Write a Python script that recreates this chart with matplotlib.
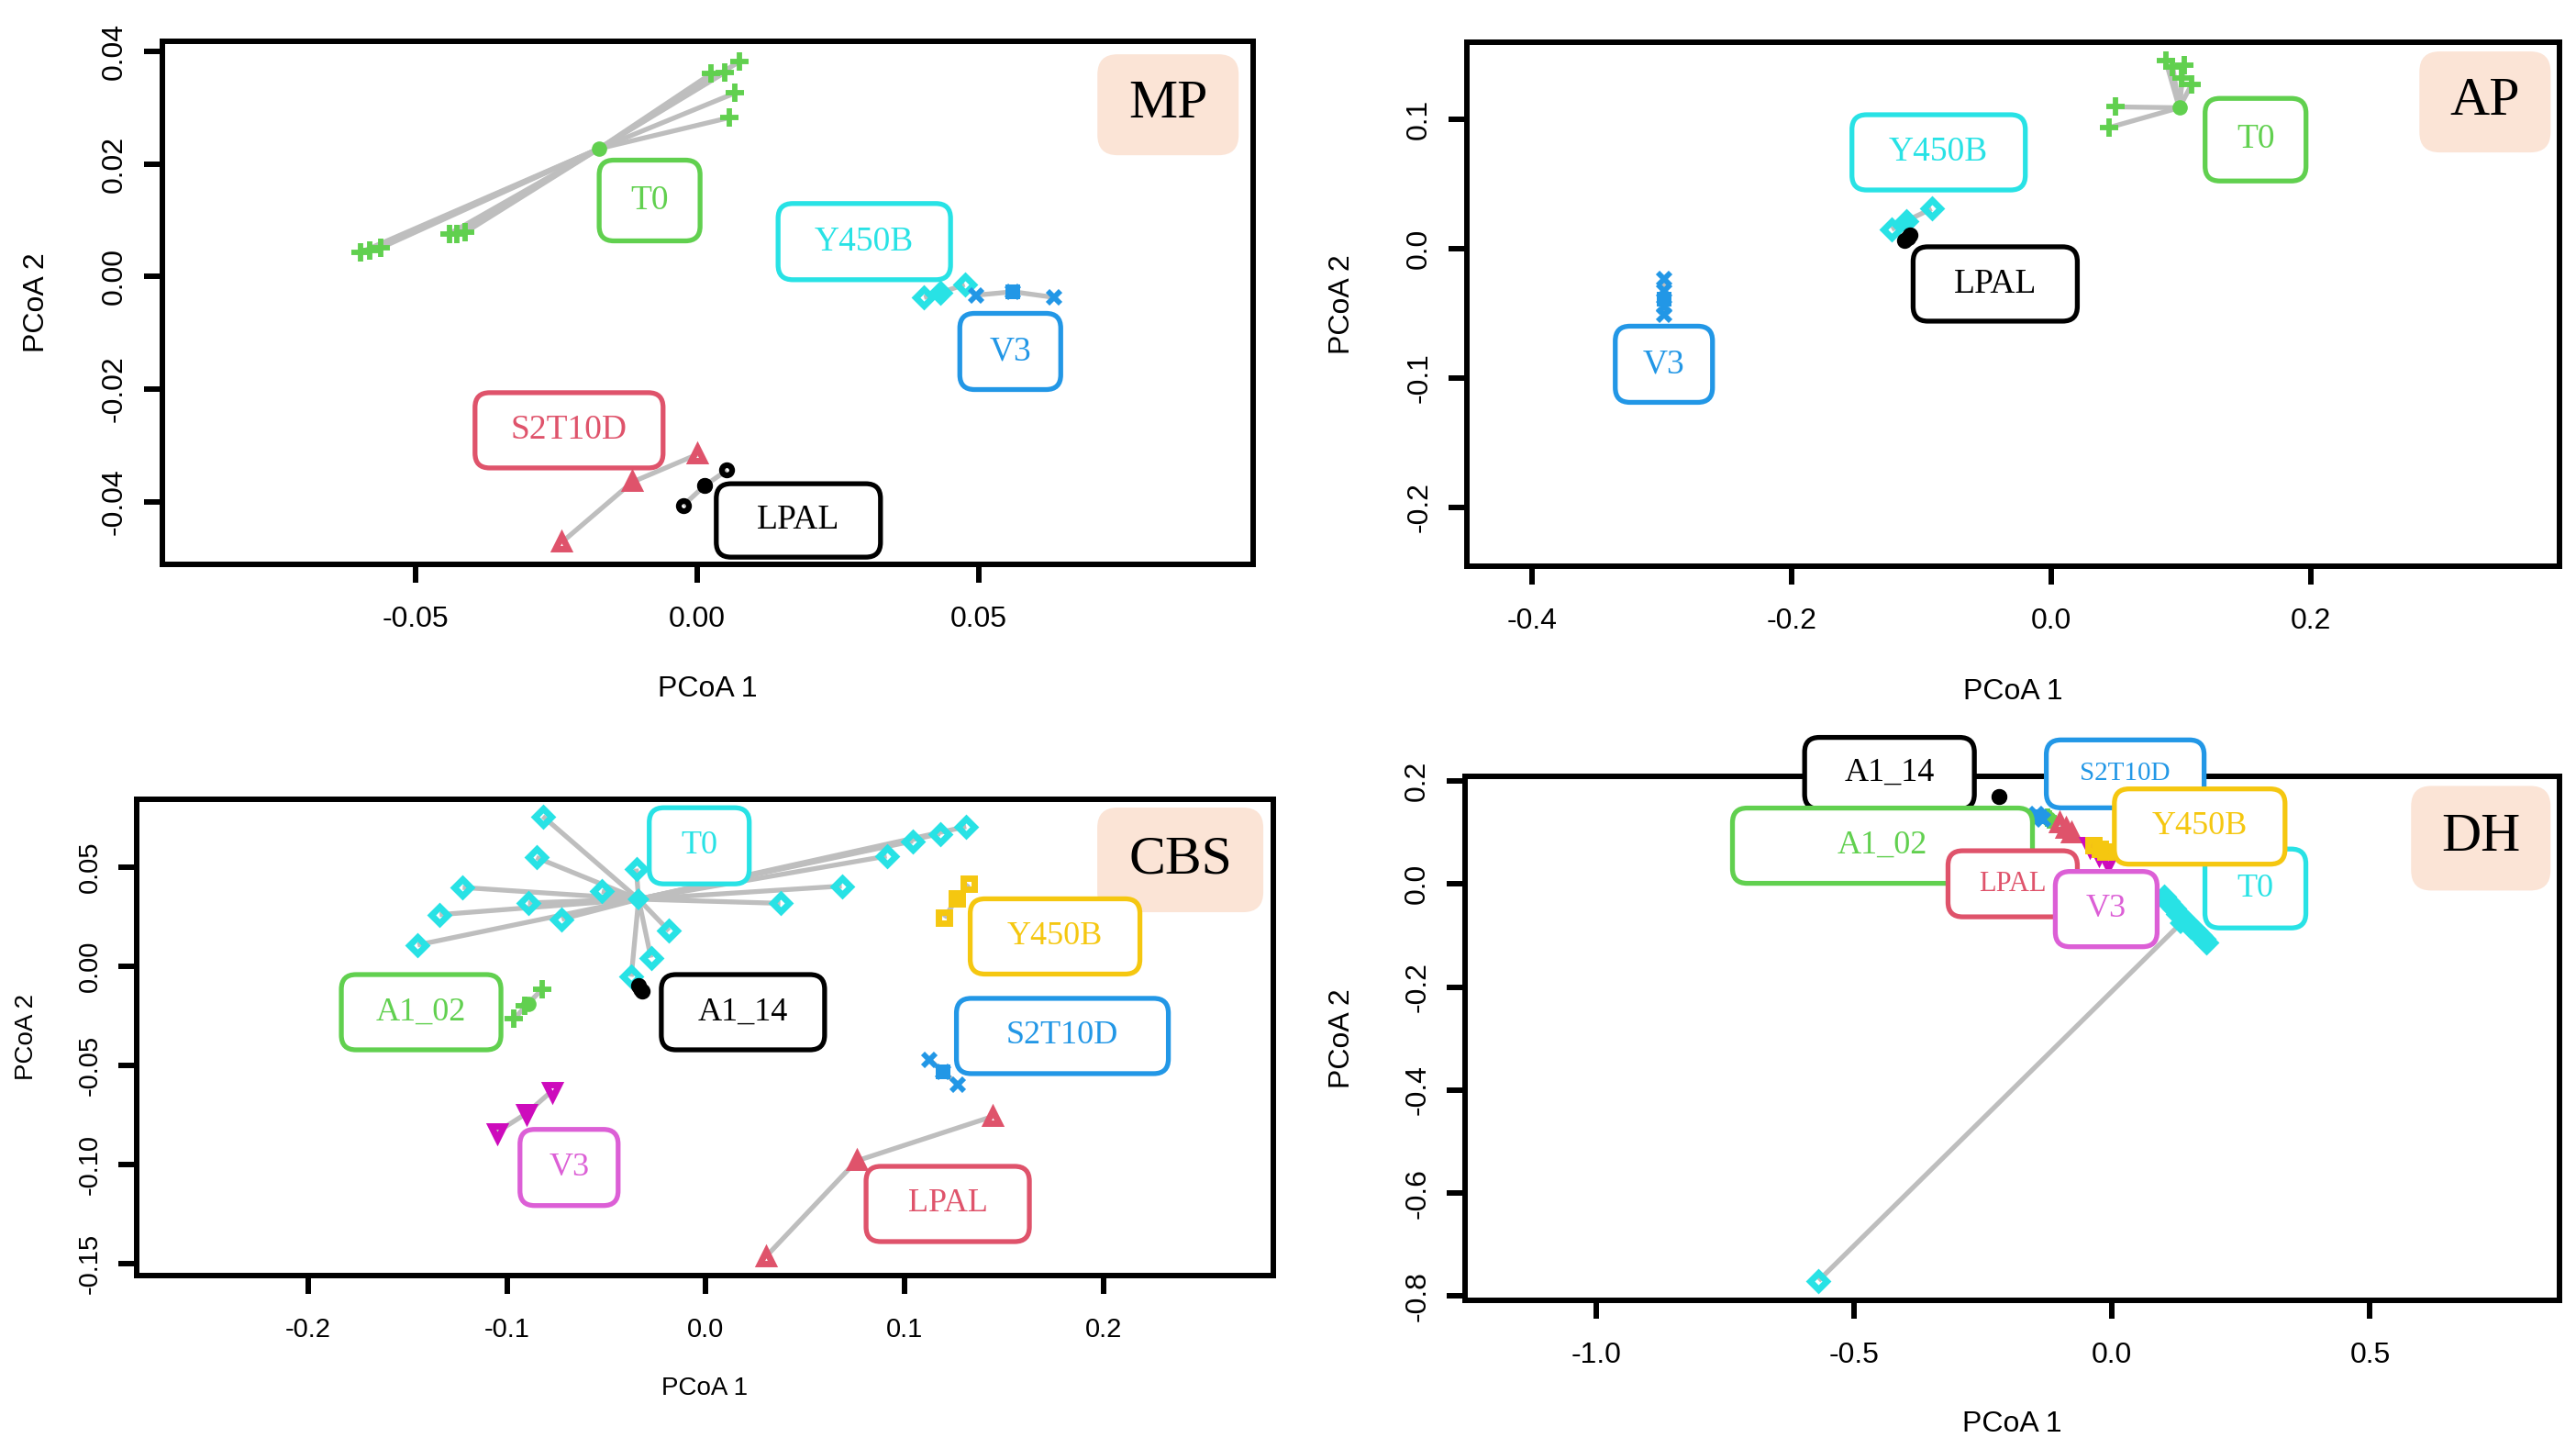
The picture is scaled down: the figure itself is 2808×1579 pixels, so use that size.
import numpy as np
import matplotlib
matplotlib.use("Agg")
import matplotlib.pyplot as plt
from matplotlib.patches import FancyBboxPatch
from matplotlib.transforms import IdentityTransform

# ---------------- data ----------------

# MP
mp_groups = ["T0", "Y450B", "V3", "S2T10D", "LPAL"]
mp_cx = [-0.0174, 0.0432, 0.0561, -0.0115, 0.0014]
mp_cy = [0.0227, -0.0029, -0.0027, -0.0365, -0.0371]
mp_px = [[0.0076, 0.0049, 0.0025, 0.0068, 0.0057, -0.0597, -0.0580, -0.0561, -0.0439, -0.0426, -0.0412],
         [0.0403, 0.0432, 0.0475],
         [0.0496, 0.0561, 0.0634],
         [0.0000, -0.0115, -0.0240],
         [-0.0024, 0.0014, 0.0053]]
mp_py = [[0.0382, 0.0362, 0.0360, 0.0326, 0.0282, 0.0043, 0.0046, 0.0051, 0.0076, 0.0076, 0.0078],
         [-0.0037, -0.0029, -0.0014],
         [-0.0033, -0.0027, -0.0037],
         [-0.0316, -0.0365, -0.0472],
         [-0.0406, -0.0371, -0.0344]]
mp_lx = [-0.0084, 0.0297, 0.0556, -0.0227, 0.0180]
mp_ly = [0.0135, 0.0062, -0.0133, -0.0273, -0.0433]
mp_xticks = [-0.05, 0.0, 0.05]
mp_xlabels = ["-0.05", "0.00", "0.05"]
mp_yticks = [-0.04, -0.02, 0.0, 0.02, 0.04]
mp_ylabels = ["-0.04", "-0.02", "0.00", "0.02", "0.04"]

# AP
ap_groups = ["T0", "Y450B", "LPAL", "V3"]
ap_cx = [0.0987, -0.1117, -0.1105, -0.2985]
ap_cy = [0.1090, 0.0214, 0.0088, -0.0389]
ap_px = [[0.0495, 0.0443, 0.0883, 0.0937, 0.1023, 0.1008, 0.1081],
         [-0.1229, -0.1117, -0.0921],
         [-0.1130, -0.1105, -0.1085],
         [-0.2985, -0.2985, -0.2985, -0.2985]]
ap_py = [[0.1097, 0.0936, 0.1452, 0.1405, 0.1417, 0.1322, 0.1267],
         [0.0150, 0.0214, 0.0309],
         [0.0065, 0.0088, 0.0108],
         [-0.0237, -0.0330, -0.0450, -0.0512]]
ap_lx = [0.1575, -0.0867, -0.0431, -0.2984]
ap_ly = [0.0843, 0.0745, -0.0273, -0.0894]
ap_xticks = [-0.4, -0.2, 0.0, 0.2]
ap_xlabels = ["-0.4", "-0.2", "0.0", "0.2"]
ap_yticks = [-0.2, -0.1, 0.0, 0.1]
ap_ylabels = ["-0.2", "-0.1", "0.0", "0.1"]

# CBS
cbs_groups = ["T0", "A1_02", "A1_14", "Y450B", "S2T10D", "V3", "LPAL"]
cbs_cx = [-0.0338, -0.0894, -0.0330, 0.1261, 0.1195, -0.0902, 0.0758]
cbs_cy = [0.0337, -0.0189, -0.0115, 0.0335, -0.0535, -0.0743, -0.0983]
cbs_px = [[-0.0820, -0.0853, -0.1223, -0.1339, -0.1450, -0.0894, -0.0725, -0.0523, -0.0350,
           -0.0185, -0.0276, -0.0375, 0.0375, 0.0684, 0.0910, 0.1042, 0.1178, 0.1310],
          [-0.0964, -0.0910, -0.0824],
          [-0.0340, -0.0322],
          [0.1199, 0.1261, 0.1322],
          [0.1125, 0.1195, 0.1269],
          [-0.1050, -0.0902, -0.0774],
          [0.0301, 0.0758, 0.1442]]
cbs_py = [[0.0755, 0.0547, 0.0396, 0.0259, 0.0106, 0.0318, 0.0236, 0.0377, 0.0491,
           0.0177, 0.0042, -0.0054, 0.0316, 0.0403, 0.0554, 0.0630, 0.0667, 0.0703],
          [-0.0267, -0.0200, -0.0118],
          [-0.0100, -0.0128],
          [0.0243, 0.0342, 0.0413],
          [-0.0472, -0.0535, -0.0597],
          [-0.0837, -0.0743, -0.0630],
          [-0.1467, -0.0983, -0.0759]]
cbs_lx = [-0.0033, -0.1432, 0.0187, 0.1757, 0.1794, -0.0688, 0.1217]
cbs_ly = [0.0606, -0.0233, -0.0233, 0.0149, -0.0353, -0.1016, -0.1200]
cbs_xticks = [-0.2, -0.1, 0.0, 0.1, 0.2]
cbs_xlabels = ["-0.2", "-0.1", "0.0", "0.1", "0.2"]
cbs_yticks = [-0.15, -0.10, -0.05, 0.0, 0.05]
cbs_ylabels = ["-0.15", "-0.10", "-0.05", "0.00", "0.05"]

# DH
dh_groups = ["T0", "A1_02", "A1_14", "S2T10D", "LPAL", "V3", "Y450B"]
dh_cx = [0.133, -0.123, -0.219, -0.140, -0.090, -0.025, -0.024]
dh_cy = [-0.077, 0.127, 0.1695, 0.131, 0.108, 0.058, 0.068]
dh_px = [[-0.5687, 0.101, 0.108, 0.113, 0.121, 0.128, 0.137, 0.145, 0.153, 0.162, 0.170, 0.178, 0.183],
         [-0.125, -0.121],
         [-0.219],
         [-0.146, -0.134],
         [-0.101, -0.090, -0.079],
         [-0.043, -0.025, -0.008],
         [-0.036, -0.024, -0.012]]
dh_py = [[-0.770, -0.024, -0.033, -0.040, -0.047, -0.058, -0.066, -0.074, -0.083, -0.091, -0.099, -0.106, -0.113],
         [0.129, 0.125],
         [0.1695],
         [0.136, 0.126],
         [0.118, 0.108, 0.099],
         [0.073, 0.058, 0.044],
         [0.075, 0.068, 0.062]]
dh_lx = [0.278, -0.4449, -0.4313, 0.0256, -0.1925, -0.0112, 0.170]
dh_ly = [-0.0088, 0.0743, 0.215, 0.2137, 0.0003, -0.0488, 0.1115]
dh_xticks = [-1.0, -0.5, 0.0, 0.5]
dh_xlabels = ["-1.0", "-0.5", "0.0", "0.5"]
dh_yticks = [-0.8, -0.6, -0.4, -0.2, 0.0, 0.2]
dh_ylabels = ["-0.8", "-0.6", "-0.4", "-0.2", "0.0", "0.2"]

# ---------------- styles / layout ----------------
BLACK, RED, GREEN, BLUE = "#000000", "#DF536B", "#61D04F", "#2297E6"
CYAN, MAGENTA, YELLOW = "#28E2E5", "#CD0BBC", "#F5C710"
ORCHID = "#DC5FD6"
PEACH = "#FBE4D6"
LINE = "#BEBEBE"

sample_ms = {"+": 15, "x": 10, "o": 8, "^": 10, "D": 9, "v": 10, "s": 8}
sample_mew = {"+": 4.2, "x": 4.2, "o": 4.5, "^": 5, "D": 5, "v": 5, "s": 5}
cent_mk = {"+": "o", "x": "s", "o": "o", "^": "^", "D": "D", "v": "v", "s": "s"}
cent_ms = {"o": 12, "s": 11, "^": 14, "D": 12, "v": 14}

# per group: colour, marker, label colour, box w, box h (px), font size
mp_style = {"T0": (GREEN, "+", GREEN, 110, 88, 27),
            "Y450B": (CYAN, "D", CYAN, 188, 83, 27),
            "V3": (BLUE, "x", BLUE, 110, 83, 27),
            "S2T10D": (RED, "^", RED, 205, 82, 27),
            "LPAL": (BLACK, "o", BLACK, 179, 80, 27)}
ap_style = {"T0": (GREEN, "+", GREEN, 110, 90, 27),
            "Y450B": (CYAN, "D", CYAN, 189, 82, 27),
            "LPAL": (BLACK, "o", BLACK, 179, 81, 27),
            "V3": (BLUE, "x", BLUE, 106, 83, 27)}
cbs_style = {"T0": (CYAN, "D", CYAN, 109, 83, 26),
             "A1_02": (GREEN, "+", GREEN, 174, 82, 26),
             "A1_14": (BLACK, "o", BLACK, 178, 82, 26),
             "Y450B": (YELLOW, "s", YELLOW, 185, 82, 26),
             "S2T10D": (BLUE, "x", BLUE, 231, 82, 26),
             "V3": (MAGENTA, "v", ORCHID, 107, 83, 26),
             "LPAL": (RED, "^", RED, 178, 82, 26)}
dh_style = {"T0": (CYAN, "D", CYAN, 110, 86, 26),
            "A1_02": (GREEN, "+", GREEN, 327, 82, 26),
            "A1_14": (BLACK, "o", BLACK, 185, 78, 26),
            "S2T10D": (BLUE, "x", BLUE, 172, 74, 21),
            "LPAL": (RED, "^", RED, 141, 72, 22),
            "V3": (MAGENTA, "v", ORCHID, 111, 82, 26),
            "Y450B": (YELLOW, "s", YELLOW, 186, 82, 26)}
dh_label_order = ["A1_14", "S2T10D", "A1_02", "LPAL", "V3", "T0", "Y450B"]

W, H = 2808, 1579
AXLW = 4.3


def px_rect(left, right, top, bottom):
    return [left / W, 1 - bottom / H, (right - left) / W, (bottom - top) / H]


def box_label(ax, x, y, s, tcolor, w, h, fs, fc="white", ec=None, z=5, r=16):
    cx, cy = ax.transData.transform((x, y))
    p = FancyBboxPatch((cx - w / 2, cy - h / 2), w, h,
                       boxstyle=f"round,pad=0,rounding_size={r}",
                       fc=fc, ec=ec if ec is not None else tcolor, lw=3.8,
                       transform=IdentityTransform(), clip_on=False, zorder=z)
    ax.add_artist(p)
    ax.text(x, y, s, color=tcolor, ha="center", va="center", fontsize=fs,
            family="Liberation Serif", zorder=z + 0.5, clip_on=False)


def panel(rect, xlim, ylim, groups, cx, cy, px, py, lx, ly, style, title, tpos, tsize,
          xt, xtl, yt, ytl, xlab_y, ylab_x, fs_tick=23, fs_lab=23, order=None):
    ax = fig.add_axes(rect)
    ax.set_xlim(*xlim)
    ax.set_ylim(*ylim)
    for i, g in enumerate(groups):
        col, mk = style[g][0], style[g][1]
        for xx, yy in zip(px[i], py[i]):
            ax.plot([cx[i], xx], [cy[i], yy], color=LINE, lw=3.8, zorder=2,
                    solid_capstyle="butt")
        ax.plot(px[i], py[i], ls="none", marker=mk, ms=sample_ms[mk], mew=sample_mew[mk],
                mec=col, mfc="none", zorder=3)
        cm = cent_mk[mk]
        ax.plot([cx[i]], [cy[i]], ls="none", marker=cm, ms=cent_ms[cm],
                mec=col, mfc=col, mew=0, zorder=3)
    ax.set_xticks(xt)
    ax.set_xticklabels(xtl)
    ax.set_yticks(yt)
    ax.set_yticklabels(ytl, rotation=90, va="center")
    ax.tick_params(width=AXLW, length=14.5, labelsize=fs_tick, pad=18)
    ax.tick_params(axis="y", pad=12)
    for lab in ax.get_xticklabels() + ax.get_yticklabels():
        lab.set_family("Liberation Sans")
    for sp in ax.spines.values():
        sp.set_linewidth(AXLW)
    ax.text(0.5, xlab_y, "PCoA 1", transform=ax.transAxes, ha="center", va="center",
            fontsize=fs_lab, family="Liberation Sans")
    ax.text(ylab_x, 0.5, "PCoA 2", transform=ax.transAxes, ha="center", va="center",
            rotation=90, fontsize=fs_lab, family="Liberation Sans")
    # title box
    box_label(ax, tpos[0], tpos[1], title, "black", tsize[0], tsize[1], 43,
              fc=PEACH, ec="none", z=5, r=22)
    names = order if order is not None else groups
    for k, g in enumerate(names):
        i = groups.index(g)
        col, mk, lcol, bw, bh, fs = style[g]
        box_label(ax, lx[i], ly[i], g, lcol, bw, bh, fs, z=6 + k)
    return ax


fig = plt.figure(figsize=(W / 100, H / 100), dpi=100)

panel(px_rect(176.8, 1366, 44.8, 615), (-0.0949, 0.0987), (-0.0511, 0.0418),
      mp_groups, mp_cx, mp_cy, mp_px, mp_py, mp_lx, mp_ly, mp_style,
      "MP", (0.0836, 0.0305), (154, 110),
      mp_xticks, mp_xlabels, mp_yticks, mp_ylabels, -0.2385, -0.115)

panel(px_rect(1599, 2790, 46, 617), (-0.4502, 0.3917), (-0.2456, 0.1597),
      ap_groups, ap_cx, ap_cy, ap_px, ap_py, ap_lx, ap_ly, ap_style,
      "AP", (0.3343, 0.1135), (143, 110),
      ap_xticks, ap_xlabels, ap_yticks, ap_ylabels, -0.240, -0.1142)

panel(px_rect(149, 1388, 870.7, 1390), (-0.2863, 0.2855), (-0.1561, 0.0842),
      cbs_groups, cbs_cx, cbs_cy, cbs_px, cbs_py, cbs_lx, cbs_ly, cbs_style,
      "CBS", (0.2387, 0.0535), (181, 114),
      cbs_xticks, cbs_xlabels, cbs_yticks, cbs_ylabels, -0.2369, -0.0972,
      fs_tick=21, fs_lab=20)

panel(px_rect(1597, 2790, 846, 1417), (-1.254, 0.8674), (-0.8083, 0.2089),
      dh_groups, dh_cx, dh_cy, dh_px, dh_py, dh_lx, dh_ly, dh_style,
      "DH", (0.7149, 0.0888), (152, 114),
      dh_xticks, dh_xlabels, dh_yticks, dh_ylabels, -0.2364, -0.1123,
      order=dh_label_order)

fig.savefig("out.png", dpi=100)
